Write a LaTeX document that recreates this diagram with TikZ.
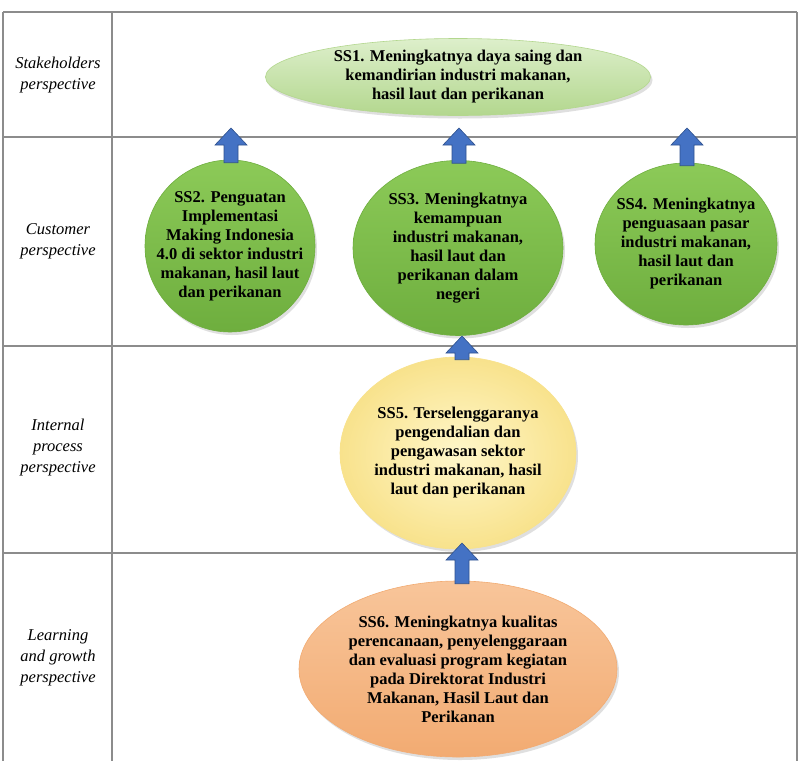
\documentclass[tikz,border=0pt]{standalone}
\usepackage{fontspec}
\setmainfont{Liberation Serif}
\usetikzlibrary{shapes.geometric,shadows,calc}
\definecolor{gridc}{HTML}{8C8C8C}
\definecolor{arrfill}{HTML}{4472C4}
\definecolor{arrline}{HTML}{2F528F}
\definecolor{gA}{HTML}{DDEFCB}
\definecolor{gB}{HTML}{B3D78E}
\definecolor{dgA}{HTML}{8CCA58}
\definecolor{dgB}{HTML}{6EAE3E}
\definecolor{yA}{HTML}{FFF7CA}
\definecolor{yB}{HTML}{F8E28C}
\definecolor{oA}{HTML}{F8C59A}
\definecolor{oB}{HTML}{F2AB72}
\newcommand{\blockup}[2]{%
  \filldraw[arrbox] ($(#1)+(-7,0)$) -- ($(#2)+(-7,17)$) -- ($(#2)+(-16,17)$) -- (#2)
    -- ($(#2)+(16,17)$) -- ($(#2)+(7,17)$) -- ($(#1)+(7,0)$) -- cycle;}
\tikzset{
  gridline/.style={draw=gridc, line width=1.5pt},
  persp/.style={font=\itshape\fontsize{16.5}{21}\selectfont, align=center, text=black},
  oval/.style={ellipse, inner sep=0pt, line width=0.6pt,
    drop shadow={opacity=0.25, shadow xshift=2pt, shadow yshift=-3pt}},
  txt/.style={font=\bfseries\fontsize{16.5}{19}\selectfont, align=center, text=black, inner sep=0pt},
  ovalSone/.style={oval, draw=gB, top color=gA, bottom color=gB},
  ovalgreen/.style={oval, draw=dgB, top color=dgA, bottom color=dgB},
  ovalyellow/.style={oval, draw=yB, inner color=yA, outer color=yB},
  ovalorange/.style={oval, draw=oB, top color=oA, bottom color=oB},
  arrbox/.style={fill=arrfill, draw=arrline, line width=0.6pt, line join=miter}
}
\begin{document}
\begin{tikzpicture}[x=1pt,y=-1pt]
\useasboundingbox (0,0) rectangle (803,761);
\fill[white] (0,0) rectangle (803,761);
% table
\draw[gridline] (3,12) -- (797,12);
\draw[gridline] (3,137) -- (797,137);
\draw[gridline] (3,346) -- (797,346);
\draw[gridline] (3,553) -- (797,553);
\draw[gridline] (3,12) -- (3,761);
\draw[gridline] (112,12) -- (112,761);
\draw[gridline] (797,12) -- (797,761);
% perspective labels
\node[persp] (p1) at (58,75) {Stakeholders\\perspective};
\node[persp] (p2) at (58,241) {Customer\\perspective};
\node[persp] (p3) at (58,448) {Internal\\process\\perspective};
\node[persp] (p4) at (58,658) {Learning\\and growth\\perspective};
% objectives
\node[ovalSone, minimum width=385pt, minimum height=77pt] (ss1) at (458,77) {};
\node[txt] (ss1t) at (ss1) {SS1. Meningkatnya daya saing dan\\kemandirian industri makanan,\\hasil laut dan perikanan};
\node[ovalgreen, minimum width=170pt, minimum height=172pt] (ss2) at (230,246) {};
\node[txt] (ss2t) at (ss2) {SS2. Penguatan\\Implementasi\\Making Indonesia\\4.0 di sektor industri\\makanan, hasil laut\\dan perikanan};
\node[ovalgreen, minimum width=210pt, minimum height=175pt] (ss3) at (458,248) {};
\node[txt] (ss3t) at (ss3) {SS3. Meningkatnya\\kemampuan\\industri makanan,\\hasil laut dan\\perikanan dalam\\negeri};
\node[ovalgreen, minimum width=182pt, minimum height=162pt] (ss4) at (686,244) {};
\node[txt] (ss4t) at (ss4) {SS4. Meningkatnya\\penguasaan pasar\\industri makanan,\\hasil laut dan\\perikanan};
\node[ovalyellow, minimum width=236pt, minimum height=192pt] (ss5) at (458,453) {};
\node[txt] (ss5t) at (ss5) {SS5. Terselenggaranya\\pengendalian dan\\pengawasan sektor\\industri makanan, hasil\\laut dan perikanan};
\node[ovalorange, minimum width=318pt, minimum height=176pt] (ss6) at (458,669) {};
\node[txt] (ss6t) at (ss6) {SS6. Meningkatnya kualitas\\perencanaan, penyelenggaraan\\dan evaluasi program kegiatan\\pada Direktorat Industri\\Makanan, Hasil Laut dan\\Perikanan};
% arrow tips
\coordinate (t2) at (231,128);
\coordinate (t3) at (459,128);
\coordinate (t4) at (687,128);
\coordinate (t5) at (462,336);
\coordinate (t6) at (462,543);
\blockup{$(t2 |- ss2.north)+(0,3)$}{t2}
\blockup{$(t3 |- ss3.north)+(0,3)$}{t3}
\blockup{$(t4 |- ss4.north)+(0,3)$}{t4}
\blockup{$(t5 |- ss5.north)+(0,3)$}{t5}
\blockup{$(t6 |- ss6.north)+(0,3)$}{t6}
\end{tikzpicture}
\end{document}
